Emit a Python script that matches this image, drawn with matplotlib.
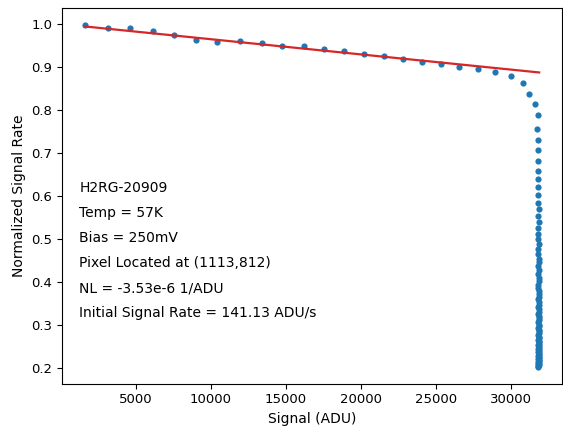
import matplotlib
matplotlib.use("Agg")
import matplotlib.pyplot as plt

# Signal (ADU), frame by frame
signal_adu = [1567, 3114, 4622, 6149, 7563, 9004, 10418, 11945, 13386, 14761,
              16195, 17550, 18898, 20226, 21554, 22836, 24077, 25339, 26554, 27815,
              28971, 30053, 30803, 31248, 31600,
              31826, 31760, 31800, 31846, 31800, 31800, 31846, 31826, 31826, 31846,
              31893, 31826, 31866, 31846, 31846, 31846, 31866, 31846, 31790, 31900,
              31880, 31850, 31870, 31840, 31860, 31880, 31850, 31830, 31870, 31860,
              31890, 31840, 31860, 31870, 31850, 31880, 31860, 31840, 31870, 31860,
              31890, 31850, 31870, 31860, 31840, 31880, 31860, 31870, 31850, 31880,
              31860, 31840, 31870, 31890, 31860, 31850, 31870, 31880, 31840, 31860,
              31870, 31850, 31880, 31860, 31830, 31870, 31860, 31850, 31880, 31860,
              31840, 31870, 31850, 31860, 31840, 31850]

# Normalized signal rate for the same frames
norm_rate = [0.997, 0.991, 0.991, 0.984, 0.974, 0.964, 0.958, 0.960, 0.957, 0.950,
             0.949, 0.942, 0.937, 0.930, 0.926, 0.919, 0.912, 0.907, 0.900, 0.895,
             0.888, 0.880, 0.863, 0.838, 0.815,
             0.788, 0.757, 0.731, 0.706, 0.681, 0.659, 0.639, 0.620, 0.602, 0.584,
             0.569, 0.553, 0.539, 0.525, 0.511, 0.500, 0.488, 0.477, 0.464, 0.454,
             0.446, 0.436, 0.427, 0.418, 0.410, 0.402, 0.394, 0.387, 0.380, 0.373,
             0.366, 0.360, 0.353, 0.347, 0.342, 0.336, 0.331, 0.325, 0.320, 0.315,
             0.311, 0.306, 0.301, 0.297, 0.293, 0.289, 0.285, 0.281, 0.277, 0.273,
             0.270, 0.266, 0.263, 0.260, 0.256, 0.253, 0.250, 0.247, 0.244, 0.241,
             0.238, 0.236, 0.233, 0.230, 0.228, 0.225, 0.223, 0.220, 0.218, 0.216,
             0.214, 0.211, 0.209, 0.207, 0.205, 0.203]

# linear nonlinearity fit
nl_coeff = -3.53e-6
fit_intercept = 1.0

info_lines = ["H2RG-20909",
              "Temp = 57K",
              "Bias = 250mV",
              "Pixel Located at (1113,812)",
              "NL = -3.53e-6 1/ADU",
              "Initial Signal Rate = 141.13 ADU/s"]

plt.rcParams["font.size"] = 9.5

fig, ax = plt.subplots(figsize=(5.63, 4.29), dpi=100)
fig.subplots_adjust(left=0.110, right=0.998, bottom=0.1056, top=0.9807)

ax.scatter(signal_adu, norm_rate, s=20, c="#1f77b4", linewidths=0, zorder=2)

x_fit = [min(signal_adu), max(signal_adu)]
y_fit = [fit_intercept + nl_coeff * x for x in x_fit]
ax.plot(x_fit, y_fit, color="#d62728", lw=1.6, zorder=3)

for i, line in enumerate(info_lines):
    ax.text(0.035, 0.5205 - i * 0.0666, line, transform=ax.transAxes,
            ha="left", va="center", fontsize=10)

ax.set_xlabel("Signal (ADU)", fontsize=10)
ax.set_ylabel("Normalized Signal Rate", fontsize=10)

plt.savefig("out.png", dpi=100)
